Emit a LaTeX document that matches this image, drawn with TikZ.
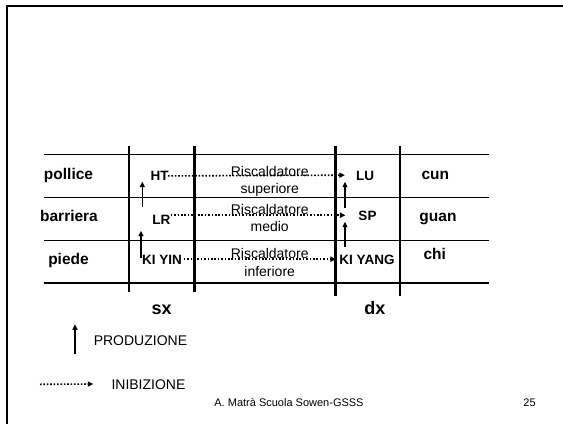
\documentclass[tikz,border=0pt]{standalone}
\usepackage{fontspec}
\setmainfont{Liberation Sans}
\tikzset{
every picture/.style={
line width=1pt
}}
\usetikzlibrary{arrows.meta}
\tikzset{
  side/.style={font=\bfseries\fontsize{15.5}{16}\selectfont, inner sep=0pt, anchor=base, text height=11pt, text depth=0pt},
  organ/.style={font=\bfseries\fontsize{13.5}{14}\selectfont, inner sep=0pt, anchor=base, text height=9.6pt, text depth=0pt},
  heater/.style={font=\fontsize{14}{15}\selectfont, inner sep=0pt, anchor=base, text height=10pt, text depth=0pt},
  legend/.style={font=\fontsize{14}{15}\selectfont, inner sep=0pt, anchor=base west, text height=10pt, text depth=0pt},
  prod/.style={line width=1.5pt, -{Triangle[length=5.5pt,width=5pt]}},
  inib/.style={line width=1.6pt, dash pattern=on 1.6pt off 1.8pt, -{Triangle[length=5.5pt,width=5pt]}}
}

\begin{document}
\begin{tikzpicture}[x=1pt,y=-1pt]
  \useasboundingbox (0,0) rectangle (563,424);
  \draw[line width=2.4pt] (7.2,424) -- (7.2,6.2) -- (563,6.2);

  \foreach \y in {154.3,197.3,240}{
    \draw (44,\y) -- (489.3,\y);
  }
  \draw[line width=1.6pt] (44,282.7) -- (489.3,282.7);
  \foreach \x/\yb in {129/291.7,194.3/291.7,335.5/296,400/296}{
    \draw[line width=2.8pt] (\x,146) -- (\x,\yb);
  }

  \node[side] (pol) at (68.5,179.3) {pollice};
  \node[side] (bar) at (69,221) {barriera};
  \node[side] (pie) at (68.5,264) {piede};
  \node[side] (cun) at (435.3,179.3) {cun};
  \node[side] (guan) at (438,221) {guan};
  \node[side] (chi) at (434.8,259.3) {chi};

  \node[organ] (ht) at (159.5,180.7) {HT};
  \node[organ] (lr) at (161.3,224.3) {LR};
  \node[organ] (kyin) at (162,264) {KI YIN};
  \node[organ] (lu) at (365,180) {LU};
  \node[organ] (sp) at (367.5,220) {SP};
  \node[organ] (kyang) at (367,264) {KI YANG};

  \node[heater] (sup) at (269.7,176.7) {Riscaldatore};
  \node[heater] (supb) at (269.7,193.3) {superiore};
  \node[heater] (med) at (269.7,214) {Riscaldatore};
  \node[heater] (medb) at (269.7,231) {medio};
  \node[heater] (inf) at (269.7,258.3) {Riscaldatore};
  \node[heater] (infb) at (269.7,276) {inferiore};

  \draw[inib] ([xshift=-1pt]ht.east) -- ([xshift=-10.7pt]lu.west);
  \draw[inib] (lr.east |- sp.west) -- ([xshift=-12.5pt]sp.west);
  \draw[inib] ([xshift=1.5pt]kyin.east) -- ([xshift=-3pt]kyang.west);

  \coordinate (l1a) at (142.3,206.7);
  \coordinate (l1b) at (142.3,181.7);
  \coordinate (l2a) at (141,258.3);
  \coordinate (l2b) at (141,230.7);
  \coordinate (r1a) at (345,208.3);
  \coordinate (r1b) at (345,181.7);
  \coordinate (r2a) at (345,247.3);
  \coordinate (r2b) at (345,221.7);
  \draw[prod] (l1a) -- (l1b);
  \draw[prod] (l2a) -- (l2b);
  \draw[prod] (r1a) -- (r1b);
  \draw[prod] (r2a) -- (r2b);

  \node[font=\bfseries\fontsize{18}{19}\selectfont, inner sep=0pt, anchor=base] (sx) at (161.7,314.3) {sx};
  \node[font=\bfseries\fontsize{18}{19}\selectfont, inner sep=0pt, anchor=base] (dx) at (375,314.3) {dx};

  \node[legend] (prodtxt) at (93.3,345) {PRODUZIONE};
  \coordinate (pa) at (75,354.3);
  \coordinate (pb) at (75,324.3);
  \draw[prod] (pa) -- (pb);
  \node[legend] (inibtxt) at (111,389) {INIBIZIONE};
  \coordinate (ia) at (40,384.3);
  \draw[inib] (ia) -- ([xshift=-17.7pt]inibtxt.west);

  \node[font=\fontsize{11}{12}\selectfont, inner sep=0pt, anchor=base] (foot) at (289,406) {A. Matrà Scuola Sowen-GSSS};
  \node[font=\fontsize{11}{12}\selectfont, inner sep=0pt, anchor=base] (page) at (529.5,406) {25};
\end{tikzpicture}
\end{document}
